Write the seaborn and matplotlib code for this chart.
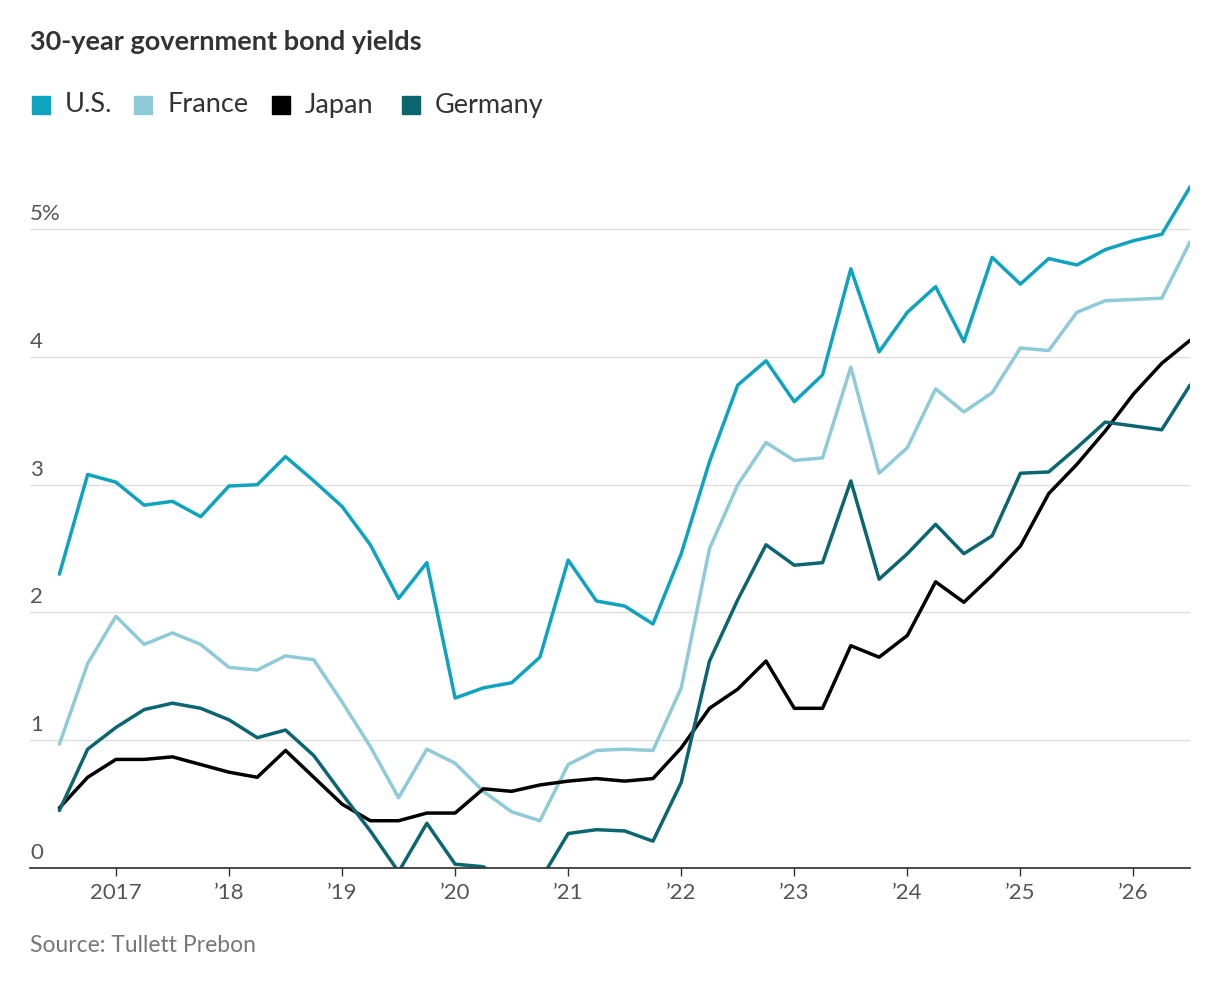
import matplotlib
matplotlib.use("Agg")
import matplotlib.pyplot as plt
import seaborn as sns
import numpy as np
import pandas as pd

sns.set_theme(style="white")
plt.rcParams['font.family'] = ['Lato', 'DejaVu Sans']

start_year = 2016.5
us = [2.3,3.08,3.02,2.84,2.87,2.75,2.99,3.0,3.22,3.03,2.83,2.53,2.11,2.39,1.33,1.41,1.45,1.65,2.41,2.09,2.05,1.91,2.46,3.18,3.78,3.97,3.65,3.86,4.69,4.04,4.35,4.55,4.12,4.78,4.57,4.77,4.72,4.84,4.91,4.96,5.33]
france = [0.97,1.6,1.97,1.75,1.84,1.75,1.57,1.55,1.66,1.63,1.3,0.95,0.55,0.93,0.82,0.6,0.44,0.37,0.81,0.92,0.93,0.92,1.41,2.5,3.0,3.33,3.19,3.21,3.92,3.09,3.29,3.75,3.57,3.72,4.07,4.05,4.35,4.44,4.45,4.46,4.9]
japan = [0.47,0.71,0.85,0.85,0.87,0.81,0.75,0.71,0.92,0.71,0.5,0.37,0.37,0.43,0.43,0.62,0.6,0.65,0.68,0.7,0.68,0.7,0.94,1.25,1.4,1.62,1.25,1.25,1.74,1.65,1.82,2.24,2.08,2.29,2.52,2.93,3.16,3.42,3.71,3.95,4.13]
germany = [0.45,0.93,1.1,1.24,1.29,1.25,1.16,1.02,1.08,0.88,0.58,0.29,-0.03,0.35,0.03,0.01,-0.15,-0.1,0.27,0.3,0.29,0.21,0.67,1.62,2.1,2.53,2.37,2.39,3.03,2.26,2.46,2.69,2.46,2.6,3.09,3.1,3.29,3.49,3.46,3.43,3.78]
series_names = ["U.S.", "France", "Japan", "Germany"]
colors = ["#0ea3bf", "#8ecad8", "#000000", "#0b6670"]
x_labels = ["2017", "’18", "’19", "’20", "’21", "’22", "’23", "’24", "’25", "’26"]
y_labels = ["0", "1", "2", "3", "4", "5%"]

t = start_year + np.arange(len(us)) * 0.25
df = pd.DataFrame({"t": np.tile(t, 4),
                   "value": us + france + japan + germany,
                   "series": np.repeat(series_names, len(us))})

fig = plt.figure(figsize=(12.18, 9.86), dpi=100)
ax = fig.add_axes([30/1218, 1-868/986, 1160/1218, (868-150)/986])
for v in range(6):
    ax.axhline(v, color="#dddddd", lw=1, zorder=0)
sns.lineplot(data=df, x="t", y="value", hue="series", palette=colors,
             hue_order=series_names, lw=2.5, ax=ax, legend=False)
ax.set_xlim(2016.24, 2026.5)
ax.set_ylim(0, 5.62)
ax.set_xlabel(""); ax.set_ylabel("")
for s in ["top", "right", "left"]:
    ax.spines[s].set_visible(False)
ax.spines["bottom"].set_color("#333333")
ax.set_xticks(np.arange(2017, 2027))
ax.set_xticklabels(x_labels, fontsize=16, color="#555555")
ax.tick_params(axis="x", length=6, width=1, color="#333333", bottom=True, pad=5)
ax.set_yticks([])
for i, lab in enumerate(y_labels):
    ax.text(0, i + 0.04, lab, transform=ax.get_yaxis_transform(), fontsize=16,
            color="#555555", ha="left", va="bottom")

fig.text(30/1218, 1-42/986, "30-year government bond yields", fontsize=19.5,
         fontweight="bold", color="#333333", va="center")
xpos = 32
for name, c in zip(series_names, colors):
    fig.patches.append(plt.Rectangle((xpos/1218, 1-114/986), 18/1218, 18/986,
                                     transform=fig.transFigure, color=c))
    fig.text((xpos+33)/1218, 1-105/986, name, fontsize=19.5, color="#333333", va="center")
    xpos += {"U.S.": 102, "France": 138, "Japan": 130, "Germany": 140}[name]
fig.text(30/1218, 1-946/986, "Source: Tullett Prebon", fontsize=16.5, color="#777777", va="center")
fig.savefig("out.png", dpi=100, facecolor="white")
